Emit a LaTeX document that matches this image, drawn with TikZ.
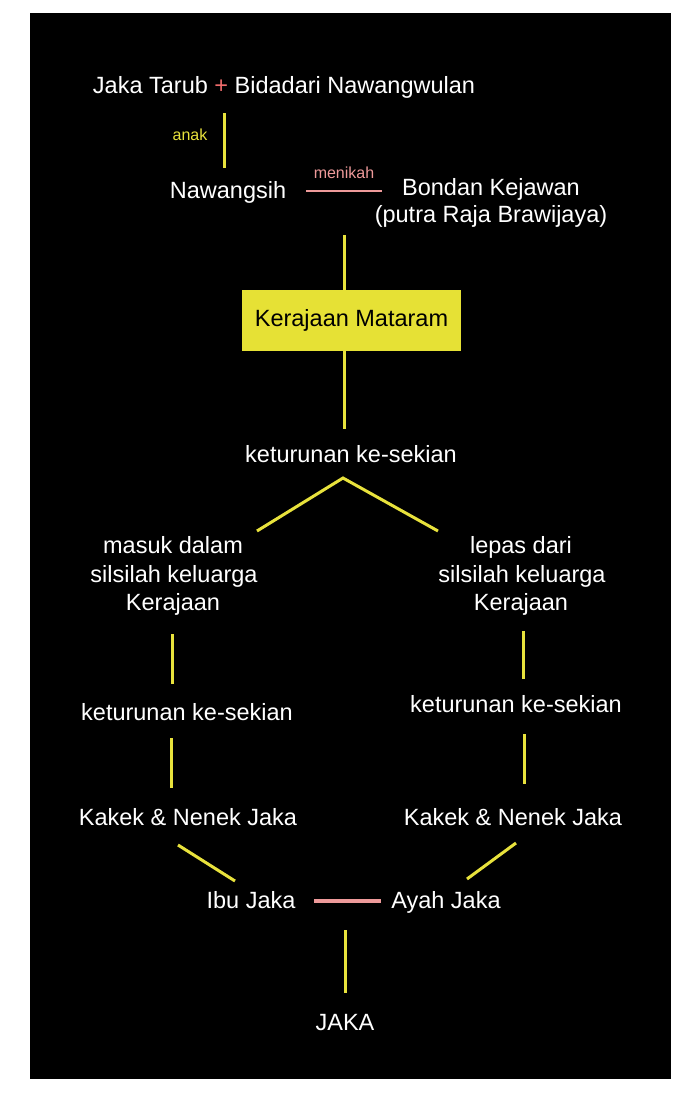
\documentclass[tikz,border=0pt]{standalone}
\usepackage{fontspec}
\setmainfont{Liberation Sans}
\definecolor{ylw}{HTML}{E8E23C}
\definecolor{boxy}{HTML}{E6E135}
\definecolor{pnk}{HTML}{EE9A9A}
\definecolor{plusred}{HTML}{F06C6C}
\begin{document}
\begin{tikzpicture}[x=1pt,y=-1pt,
  txt/.style={text=white,inner sep=0pt,anchor=base,align=center,font=\fontsize{23.5}{28}\selectfont},
  lbl/.style={inner sep=0pt,anchor=base,font=\fontsize{16}{19}\selectfont},
  yl/.style={draw=ylw,line width=3pt},
  pl/.style={draw=pnk},
  kbox/.style={fill=boxy,text=black,minimum width=219pt,minimum height=61pt,inner sep=0pt,font=\fontsize{23.5}{28}\selectfont}]
\useasboundingbox (0,0) rectangle (700,1114);
\fill[white] (0,0) rectangle (700,1114);
\fill[black] (30,13) rectangle (671,1079);

% nodes
\node[txt] (top) at (284,93) {Jaka Tarub {\color{plusred}+} Bidadari Nawangwulan};
\node[lbl,text=ylw] (anak) at (190,140) {anak};
\node[txt] (nawangsih) at (228,198) {Nawangsih};
\node[lbl,text=pnk] (menikah) at (344,178) {menikah};
\node[txt] (bondan) at (491,195) {Bondan Kejawan};
\node[txt] (putra) at (491,222) {(putra Raja Brawijaya)};
\node[kbox] (mataram) at (351.5,320.5) {Kerajaan Mataram};
\node[txt] (ket) at (351,462) {keturunan ke-sekian};
\node[txt] (masuk1) at (173,553) {masuk dalam};
\node[txt] (masuk2) at (174,582) {silsilah keluarga};
\node[txt] (masuk3) at (173,610) {Kerajaan};
\node[txt] (lepas1) at (521,553) {lepas dari};
\node[txt] (lepas2) at (522,582) {silsilah keluarga};
\node[txt] (lepas3) at (521,610) {Kerajaan};
\node[txt] (ketL) at (187,720) {keturunan ke-sekian};
\node[txt] (ketR) at (516,712) {keturunan ke-sekian};
\node[txt] (kakekL) at (188,825) {Kakek \& Nenek Jaka};
\node[txt] (kakekR) at (513,825) {Kakek \& Nenek Jaka};
\node[txt] (ibu) at (251,908) {Ibu Jaka};
\node[txt] (ayah) at (446,908) {Ayah Jaka};
\node[txt] (jaka) at (345,1030) {JAKA};

% connector end points
\coordinate (a1) at (224,113); \coordinate (a2) at (224,168);
\coordinate (m1) at (306,191); \coordinate (m2) at (382,191);
\coordinate (b1) at (344,235); \coordinate (b2) at (344,429);
\coordinate (apex) at (343,478);
\coordinate (dl) at (257,531); \coordinate (dr) at (438,531);
\coordinate (l1) at (172,634); \coordinate (l2) at (172,684);
\coordinate (r1) at (523,631); \coordinate (r2) at (523,679);
\coordinate (l3) at (171,738); \coordinate (l4) at (171,788);
\coordinate (r3) at (524,734); \coordinate (r4) at (524,784);
\coordinate (k1) at (178,845); \coordinate (k2) at (235,881);
\coordinate (k3) at (516,843); \coordinate (k4) at (467,879);
\coordinate (p1) at (314,901); \coordinate (p2) at (381,901);
\coordinate (j1) at (345,930); \coordinate (j2) at (345,993);

% connectors
\draw[yl] (a1) -- (a2);
\draw[pl,line width=2pt] (m1) -- (m2);
\draw[yl] (b1) -- (b1 |- mataram.north);
\draw[yl] (b2 |- mataram.south) -- (b2);
\draw[yl] (dl) -- (apex) -- (dr);
\draw[yl] (l1) -- (l2);
\draw[yl] (r1) -- (r2);
\draw[yl] (l3) -- (l4);
\draw[yl] (r3) -- (r4);
\draw[yl] (k1) -- (k2);
\draw[yl] (k3) -- (k4);
\draw[pl,line width=4pt] (p1) -- (p2);
\draw[yl] (j1) -- (j2);
\end{tikzpicture}
\end{document}
